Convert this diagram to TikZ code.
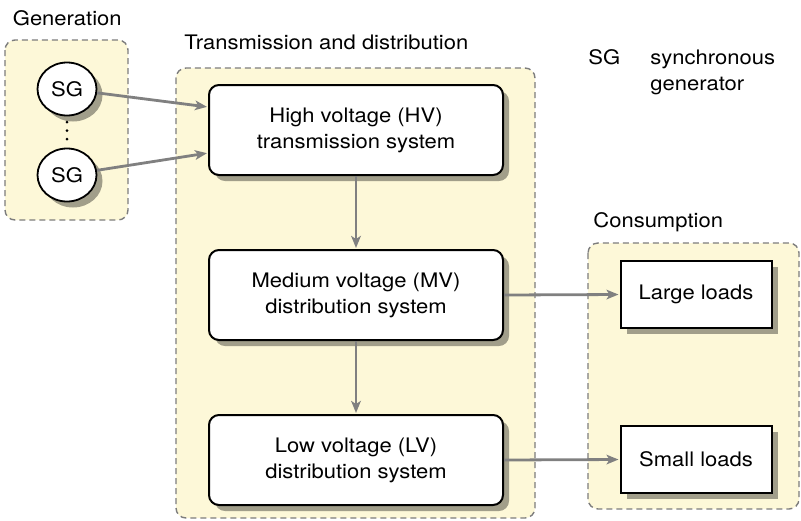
\documentclass[tikz,border=0pt]{standalone}
\usepackage{fontspec}
\setmainfont[FakeStretch=1.1]{TeX Gyre Heros}
\usetikzlibrary{shapes.geometric,shadows,arrows.meta,calc}
\definecolor{bgyellow}{RGB}{253,248,216}
\definecolor{dashgray}{RGB}{125,125,125}
\definecolor{arrowgray}{RGB}{128,128,128}
\tikzset{
  area/.style={draw=dashgray, fill=bgyellow, dash pattern=on 3pt off 2pt, line width=0.7pt, rounded corners=5pt},
  myshadow/.style={drop shadow={shadow xshift=3pt, shadow yshift=-3pt, fill=black, opacity=0.36}},
  sysbox/.style={draw=black, fill=white, line width=1pt, rounded corners=5pt, minimum width=147pt, minimum height=45pt, inner sep=0pt, align=center, myshadow},
  loadbox/.style={draw=black, fill=white, line width=1pt, minimum width=75.5pt, minimum height=33.5pt, inner sep=0pt, align=center, myshadow},
  gen/.style={ellipse, draw=black, fill=white, line width=0.9pt, minimum width=29.5pt, minimum height=26.5pt, inner sep=0pt, myshadow},
  flow/.style={draw=arrowgray, line width=1.4pt, -{Stealth[length=6pt,width=4.8pt,inset=1.5pt]}, shorten >=0.5pt},
  lbl/.style={inner sep=0pt, anchor=base west}
}
\begin{document}
\begin{tikzpicture}[x=0.5pt, y=-0.5pt, font=\fontsize{10}{13}\selectfont]
\useasboundingbox (0,0) rectangle (801,520);
% containers
\draw[area] (5,40) rectangle (128,220);
\draw[area] (176,68) rectangle (535,518);
\draw[area] (588,243) rectangle (799,509);
% labels
\node[lbl] (lgen) at (12.5,25) {Generation};
\node[lbl] (ltd) at (184,49) {Transmission and distribution};
\node[lbl] (lcons) at (593,227) {Consumption};
\node[lbl] (legsg) at (588,64) {SG};
\node[inner sep=0pt, anchor=north west, align=left] (legtxt) at (650,49.5) {synchronous\\generator};
% generators
\node[gen] (sg1) at (67,89) {SG};
\node[gen] (sg2) at (67,175) {SG};
\fill (67,122) circle (1.5);
\fill (67,130.5) circle (1.5);
\fill (67,139) circle (1.5);
% systems
\node[sysbox] (hv) at (356,130) {High voltage (HV)\\transmission system};
\node[sysbox] (mv) at (356,295) {Medium voltage (MV)\\distribution system};
\node[sysbox] (lv) at (356,460) {Low voltage (LV)\\distribution system};
% loads
\node[loadbox] (large) at (696,294.5) {Large loads};
\node[loadbox] (small) at (696,459.5) {Small loads};
% connectors
\draw[flow] (sg1) -- ([yshift=11.5pt]hv.west);
\draw[flow] (sg2) -- ([yshift=-11.5pt]hv.west);
\draw[flow] (hv) -- (mv);
\draw[flow] (mv) -- (lv);
\draw[flow] (mv.east) -- (large.west);
\draw[flow] (lv.east) -- (small.west);
\end{tikzpicture}
\end{document}
